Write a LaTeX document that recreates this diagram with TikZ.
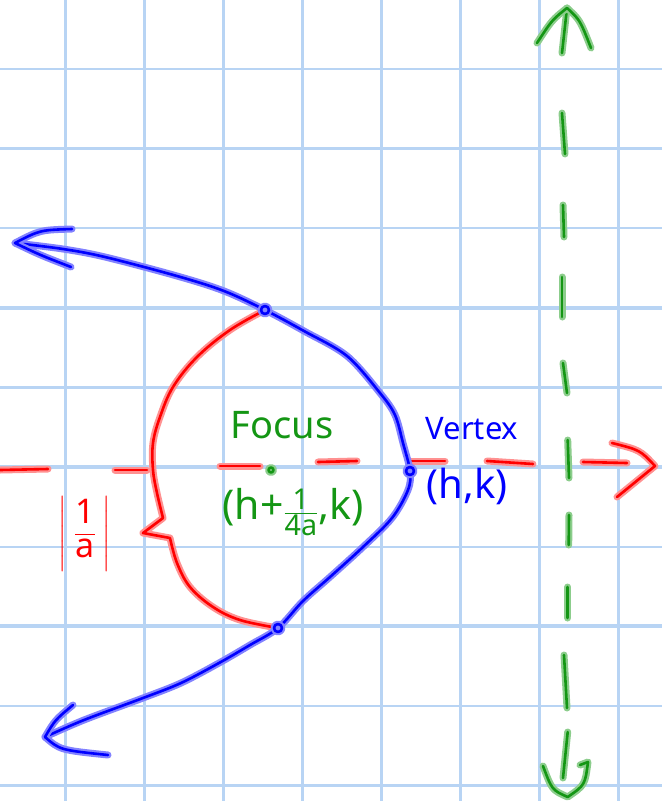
\documentclass[tikz,border=0pt]{standalone}
\usepackage{fontspec}
\usepackage{amsmath}
\setmainfont{Noto Sans}
\definecolor{gridblue}{RGB}{184,212,244}
\definecolor{inkblue}{RGB}{0,0,255}
\definecolor{haloblue}{RGB}{130,130,255}
\definecolor{inkred}{RGB}{255,0,0}
\definecolor{halored}{RGB}{255,145,145}
\definecolor{inkgreen}{RGB}{20,150,20}
\definecolor{halogreen}{RGB}{140,205,140}
\begin{document}
\begin{tikzpicture}[x=1pt,y=-1pt,
  gridminor/.style={draw=gridblue, line width=2.2pt},
  gridmajor/.style={draw=gridblue, line width=3.6pt},
  blueink/.style={draw=inkblue, line width=2.6pt, line cap=round, line join=round,
    preaction={draw=haloblue, line width=7pt, line cap=round, line join=round}},
  redink/.style={draw=inkred, line width=2.6pt, line cap=round, line join=round,
    preaction={draw=halored, line width=7pt, line cap=round, line join=round}},
  greenink/.style={draw=inkgreen, line width=2.6pt, line cap=round, line join=round,
    preaction={draw=halogreen, line width=7pt, line cap=round, line join=round}},
  greentext/.style={text=inkgreen, inner sep=0pt},
  bluetext/.style={text=inkblue, inner sep=0pt},
  redtext/.style={text=inkred, inner sep=0pt}]
\useasboundingbox (0,0) rectangle (662,801);
% grid
\foreach \i in {0,...,7} { \draw[gridminor] (65.4+79*\i,0) -- (65.4+79*\i,801); }
\foreach \j in {0,2,4,6,8} { \draw[gridminor] (0,69+79.6*\j) -- (662,69+79.6*\j); }
\foreach \j in {1,3,5,7,9} { \draw[gridmajor] (0,69+79.6*\j) -- (662,69+79.6*\j); }

% key points
\coordinate (P) at (265,310);
\coordinate (V) at (410,471);
\coordinate (Q) at (278,628);
\coordinate (F) at (271,470);
\coordinate (utip) at (15,243);
\coordinate (ltip) at (45,737);

% red dashed axis
\draw[redink] (0,470) -- (48,469);
\draw[redink] (115,470) -- (147,470);
\draw[redink] (220,466) -- (260,466);
\draw[redink] (318,462) -- (357,461);
\draw[redink] (V) ++(0,-10) -- (445,461);
\draw[redink] (487,461) -- (533,464);
\draw[redink] (583,462) -- (627,463);
\coordinate (rtip) at (655,466);
\draw[redink] (612,443) .. controls (640,450) .. (rtip) -- (617,497);

% red brace curve
\draw[redink] plot[smooth, tension=0.6] coordinates {(P) (230,330) (197,357) (173,387) (160,417) (153,443) (153,470) (157,493) (163,518)}
  -- (143,533) -- (170,538)
  plot[smooth, tension=0.6] coordinates {(170,538) (177,563) (190,587) (213,607) (240,620) (Q)};

% green dashed directrix
\coordinate (gtop) at (567,8);
\coordinate (gbot) at (567.7,797);
\draw[greenink] (562,53) -- (gtop);
\draw[greenink] (537,43) .. controls (552,20) .. (gtop) .. controls (580,20) .. (591,48);
\draw[greenink] (562,113) -- (565,154);
\draw[greenink] (563,205) -- (564,237);
\draw[greenink] (562,277) -- (562,317);
\draw[greenink] (563,363) -- (567,393);
\draw[greenink] (567.7,440) -- (569,478);
\draw[greenink] (569,515) -- (568.7,545);
\draw[greenink] (567.7,587) -- (567.7,618);
\draw[greenink] (564,655) -- (567,708);
\draw[greenink] (567.7,732) -- (563,778);
\draw[greenink] (543,766) .. controls (552,790) .. (gbot) .. controls (585,785) .. (588,762) -- (580,765);

% blue parabola
\draw[blueink] plot[smooth, tension=0.55] coordinates {(utip) (63,249) (105,257) (177,276) (224,291) (P) (304,331) (347,356) (380,393) (395,415) (403,443) (V) (408,490) (392,518) (363,547) (330,577) (303,601) (Q) (250,645) (219,663) (181,683) (143,698) (84,720) (ltip)};
\draw[blueink] (72,229) .. controls (40,230) .. (utip) .. controls (40,255) .. (71,267);
\draw[blueink] (73,705) .. controls (55,720) .. (ltip) .. controls (60,750) .. (108,755);
\draw[blueink] (P) circle (4);
\draw[blueink] (V) circle (4);
\draw[blueink] (Q) circle (4);

% focus dot
\draw[greenink] (F) circle (2.5);

% labels
\node[greentext, font=\fontsize{38}{44}\selectfont] (focuslbl) at (282,425) {Focus};
\node[greentext, font=\fontsize{41}{48}\selectfont] (focuscoord) at (293,512) {(h+$\frac{\text{1}}{\text{4a}}$,k)};
\node[bluetext, font=\fontsize{31}{36}\selectfont] (vertexlbl) at (472,429) {Vertex};
\node[bluetext, font=\fontsize{40}{46}\selectfont] (vertexcoord) at (467,486) {(h,k)};
\node[redtext, font=\fontsize{34}{40}\selectfont] (abslbl) at (85,534) {$\displaystyle\left|\;\frac{\text{1}}{\text{a}}\;\right|$};
\end{tikzpicture}
\end{document}
